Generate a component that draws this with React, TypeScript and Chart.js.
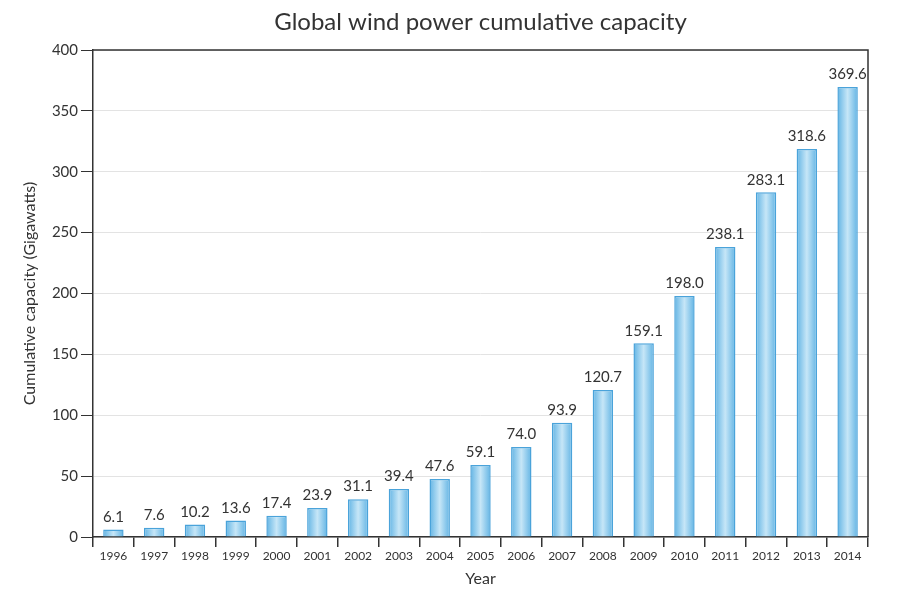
import React, { useEffect, useRef } from "react";
import { Chart, registerables } from "chart.js";

Chart.register(...registerables);

const years = ["1996","1997","1998","1999","2000","2001","2002","2003","2004","2005","2006","2007","2008","2009","2010","2011","2012","2013","2014"];
const capacity = [6.1,7.6,10.2,13.6,17.4,23.9,31.1,39.4,47.6,59.1,74.0,93.9,120.7,159.1,198.0,238.1,283.1,318.6,369.6];
const titleText = "Global wind power cumulative capacity";
const yTitle = "Cumulative capacity (Gigawatts)";
const xTitle = "Year";

const FONT = "'Lato', 'Open Sans', sans-serif";
const TEXT = "#333";

const decorPlugin = {
  id: "decor",
  beforeDatasetsDraw(chart: any) {
    const ctx = chart.ctx;
    const meta = chart.getDatasetMeta(0);
    meta.data.forEach((el: any) => {
      const w = el.width;
      const g = ctx.createLinearGradient(el.x - w / 2, 0, el.x + w / 2, 0);
      g.addColorStop(0, "#62b4e4");
      g.addColorStop(0.5, "#c6e6f7");
      g.addColorStop(1, "#62b4e4");
      try {
        el.options.backgroundColor = g;
      } catch (e) {}
    });
  },
  afterDatasetsDraw(chart: any) {
    const ctx = chart.ctx;
    const meta = chart.getDatasetMeta(0);
    ctx.save();
    ctx.fillStyle = TEXT;
    ctx.font = `15px ${FONT}`;
    ctx.textAlign = "center";
    ctx.textBaseline = "bottom";
    meta.data.forEach((el: any, i: number) => {
      ctx.fillText(capacity[i].toFixed(1), el.x, el.y - 5);
    });
    ctx.restore();
  },
  afterDraw(chart: any) {
    const ctx = chart.ctx;
    const a = chart.chartArea;
    ctx.save();
    ctx.strokeStyle = "#333";
    ctx.lineWidth = 1.5;
    ctx.beginPath();
    ctx.moveTo(a.left, a.top);
    ctx.lineTo(a.right, a.top);
    ctx.lineTo(a.right, a.bottom);
    ctx.stroke();
    ctx.fillStyle = TEXT;
    ctx.textAlign = "center";
    ctx.textBaseline = "middle";
    ctx.font = `24px ${FONT}`;
    ctx.fillText(titleText, (a.left + a.right) / 2, 22);
    ctx.font = `16px ${FONT}`;
    ctx.fillText(xTitle, (a.left + a.right) / 2, 579);
    ctx.translate(30, (a.top + a.bottom) / 2);
    ctx.rotate(-Math.PI / 2);
    ctx.fillText(yTitle, 0, 0);
    ctx.restore();
  },
};

export default function App() {
  const ref = useRef<HTMLCanvasElement>(null);
  useEffect(() => {
    document.body.style.margin = "0";
    const chart = new Chart(ref.current!, {
      type: "bar",
      data: {
        labels: years,
        datasets: [
          {
            data: capacity,
            backgroundColor: () => "#8ccbed",
            borderColor: "#4aa3da",
            borderWidth: 1.5,
            barPercentage: 0.5,
            categoryPercentage: 1,
          },
        ],
      },
      options: {
        responsive: false,
        animation: false,
        layout: { padding: { top: 50, right: 32, left: 0, bottom: 0 } },
        plugins: { legend: { display: false }, tooltip: { enabled: false }, title: { display: false } },
        scales: {
          y: {
            min: 0,
            max: 400,
            ticks: { stepSize: 50, color: TEXT, font: { family: FONT, size: 15 }, padding: 3 },
            grid: { color: "#e3e3e3", tickColor: "#333", tickLength: 12, lineWidth: 1 },
            border: { color: "#333", width: 1.5 },
            afterFit: (s: any) => { s.width = 93; },
          },
          x: {
            offset: true,
            ticks: { color: TEXT, font: { family: FONT, size: 12 }, padding: 2, maxRotation: 0, autoSkip: false },
            grid: { offset: true, drawOnChartArea: false, tickColor: "#333", tickLength: 10, lineWidth: 1.5 },
            border: { color: "#333", width: 1.5 },
            afterFit: (s: any) => { s.height = 63; },
          },
        },
      },
      plugins: [decorPlugin],
    });
    return () => chart.destroy();
  }, []);
  return (
    <div style={{ position: "absolute", left: 0, top: 0, width: 900, height: 600, background: "#fff" }}>
      <canvas ref={ref} width={900} height={600} style={{ width: 900, height: 600 }} />
    </div>
  );
}
